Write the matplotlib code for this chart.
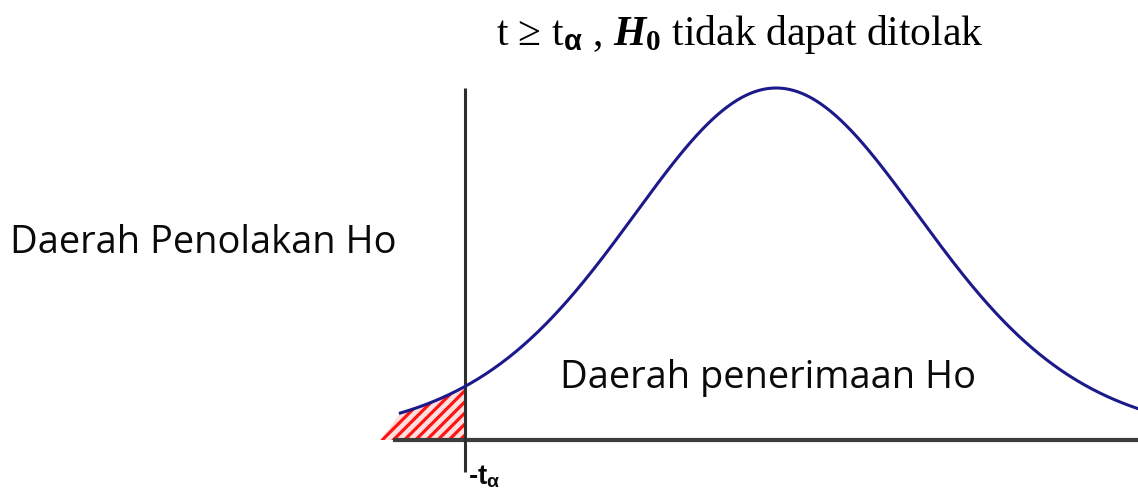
import math
import numpy as np
import matplotlib
matplotlib.use("Agg")
import matplotlib.pyplot as plt

# t distribution used for the sketch
DF = 10
T_CRIT = -2.02          # -t_alpha, the critical value on the left tail
CURVE_START = -2.44     # where the drawn curve begins
CURVE_END = 2.40
AXIS_START = -2.49      # left end of the horizontal axis line
HATCH_START = -2.57     # lower-left corner of the hatched tail

TITLE = r"t ≥ t$_{\mathsf{\alpha}}$ , $\mathbfit{H}_{\mathbf{0}}$ tidak dapat ditolak"
REJECT_LABEL = "Daerah Penolakan Ho"
ACCEPT_LABEL = "Daerah penerimaan Ho"
CRIT_LABEL = r"-t$_{\mathsf{\alpha}}$"

plt.rcParams["mathtext.fontset"] = "custom"
plt.rcParams["mathtext.rm"] = "Liberation Serif"
plt.rcParams["mathtext.it"] = "Liberation Serif:italic"
plt.rcParams["mathtext.bf"] = "Liberation Serif:bold"
plt.rcParams["mathtext.bfit"] = "Liberation Serif:bold:italic"
plt.rcParams["mathtext.sf"] = "Liberation Sans:bold"
plt.rcParams["hatch.linewidth"] = 2.3


def t_pdf(x, df):
    c = math.gamma((df + 1) / 2) / (math.sqrt(df * math.pi) * math.gamma(df / 2))
    return c * (1 + x ** 2 / df) ** (-(df + 1) / 2)


fig = plt.figure(figsize=(11.38, 4.94), dpi=100)
ax = fig.add_axes([0, 0, 1, 1])
ax.set_axis_off()

peak = t_pdf(0.0, DF)
ax.set_xlim(-5.04, 2.35)
ax.set_ylim(-54 / 352 * peak, 440 / 352 * peak)

# horizontal axis and the critical value line
ax.plot([AXIS_START, 2.5], [0, 0], color="#3c3c3c", lw=3.0, solid_capstyle="butt", zorder=2)
ax.plot([T_CRIT, T_CRIT], [-32 / 352 * peak, peak], color="#2e2e2e", lw=2.2,
        solid_capstyle="butt", zorder=3)

# density curve
x = np.linspace(CURVE_START, CURVE_END, 600)
ax.plot(x, t_pdf(x, DF), color="#1c1a8a", lw=2.2, zorder=4)

# hatched rejection tail
xt = np.linspace(CURVE_START, T_CRIT, 100)
px = np.concatenate([[HATCH_START], xt, [T_CRIT]])
py = np.concatenate([[0], t_pdf(xt, DF), [0]])
ax.fill(px, py, facecolor="#ffe0e0", edgecolor="#ff1414", lw=0, hatch="///", zorder=1)

fig.text(740 / 1138, 1 - 35 / 494, TITLE, ha="center", va="center",
         fontsize=30, family="Liberation Serif", color="#000000")
fig.text(10 / 1138, 1 - 243 / 494, REJECT_LABEL, ha="left", va="center",
         fontsize=27.4, family="Open Sans", color="#0a0a0a")
fig.text(560 / 1138, 1 - 378 / 494, ACCEPT_LABEL, ha="left", va="center",
         fontsize=27.4, family="Open Sans", color="#0a0a0a")
fig.text(468 / 1138, 1 - 484 / 494, CRIT_LABEL, ha="left", va="baseline",
         fontsize=20, family="Liberation Sans", weight="bold", color="#0a0a0a")

fig.savefig("out.png", dpi=100)
